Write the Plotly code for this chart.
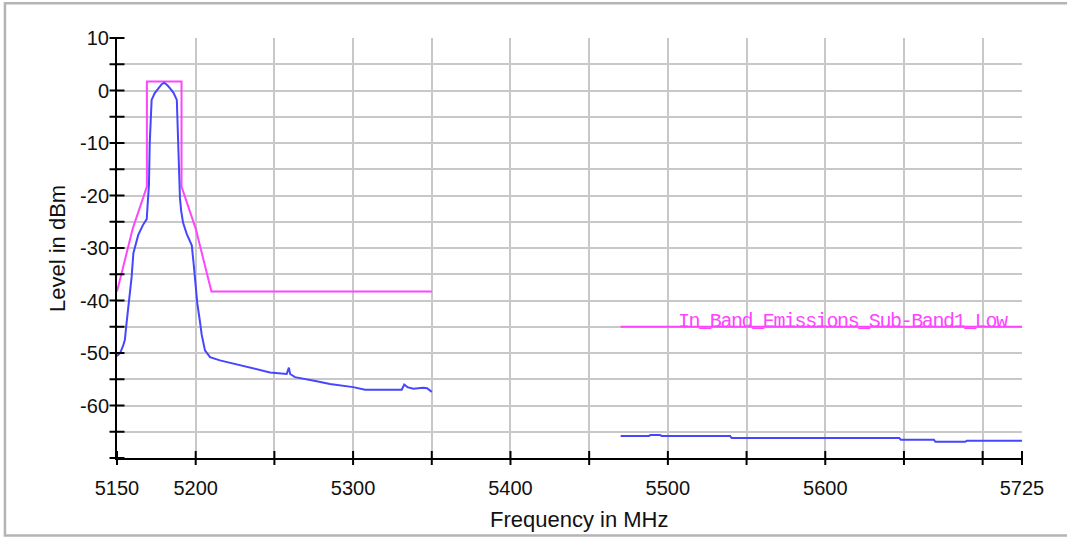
import plotly.graph_objects as go

# ---------------- data ----------------
# Measured trace (blue), lower segment 5150-5350 MHz
meas_low_f = [5150, 5152, 5154, 5155, 5156, 5157.2, 5158.3, 5159.3, 5160.4, 5161.4,
              5163.5, 5166.7, 5168.9, 5169.5, 5170.3, 5170.8, 5171.3, 5172, 5174, 5176,
              5178.4, 5180, 5182, 5184, 5186, 5188, 5188.8, 5189.4, 5190, 5190.8,
              5192, 5194.3, 5197.5, 5198.7, 5200, 5201, 5202.7, 5203.8, 5205.9, 5209.1,
              5215.4, 5230, 5247.2, 5257.8, 5259.2, 5260.0, 5263.1, 5276.9, 5285.3, 5300.1,
              5307.6, 5330.9, 5332.5, 5334.5, 5338.3, 5344.6, 5347, 5350]
meas_low_db = [-50.6, -50.0, -48.5, -47.5, -44.5, -41.5, -38.5, -35.5, -31.0, -30.0,
               -27.5, -25.5, -24.5, -21.5, -18.0, -10.0, -5.5, -1.8, -0.5, 0.3,
               1.2, 1.5, 1.0, 0.3, -0.5, -1.8, -9.0, -13.0, -20.5, -23.0,
               -25.2, -27.3, -29.5, -33.0, -37.0, -40.5, -44.0, -46.5, -49.5, -50.8,
               -51.4, -52.4, -53.7, -54.0, -52.8, -54.0, -54.6, -55.4, -55.9, -56.5,
               -57.0, -57.0, -56.0, -56.5, -56.8, -56.6, -56.7, -57.4]

# Measured trace (blue), upper segment 5470-5725 MHz
meas_high_f = [5470, 5488, 5489, 5495, 5496, 5539.5, 5540.5, 5647, 5648, 5669, 5670, 5689, 5690, 5725]
meas_high_db = [-65.8, -65.8, -65.6, -65.6, -65.8, -65.8, -66.2, -66.2, -66.5, -66.5, -66.9, -66.9, -66.7, -66.7]

# Limit line (magenta), mask around the channel
limit_low_f = [5150, 5160, 5169, 5169, 5191, 5191, 5200, 5210, 5350]
limit_low_db = [-38.3, -26.3, -18.3, 1.7, 1.7, -18.3, -26.3, -38.3, -38.3]

# Limit line (magenta), in-band emissions
limit_high_f = [5470, 5725]
limit_high_db = [-45, -45]
limit_label = "In_Band_Emissions_Sub-Band1_Low"

# Axis ticks
x_tickvals = [5150, 5200, 5250, 5300, 5350, 5400, 5450, 5500, 5550, 5600, 5650, 5700, 5725]
x_ticktext = ["5150", "5200", "", "5300", "", "5400", "", "5500", "", "5600", "", "", "5725"]
y_tickvals = [-70, -65, -60, -55, -50, -45, -40, -35, -30, -25, -20, -15, -10, -5, 0, 5, 10]
y_ticktext = ["", "", "-60", "", "-50", "", "-40", "", "-30", "", "-20", "", "-10", "", "0", "", "10"]

x_title = "Frequency in MHz"
y_title = "Level in dBm"

# ---------------- styling ----------------
BLUE = "#4646FF"
MAGENTA = "#FF44FF"
GRID = "#c8c8c8"
FONT = "Liberation Sans, Arial, sans-serif"

xr = [5150, 5725]
yr = [-70, 10]

fig = go.Figure()
fig.add_trace(go.Scatter(x=limit_low_f, y=limit_low_db, mode="lines",
                         line=dict(color=MAGENTA, width=2), hoverinfo="skip"))
fig.add_trace(go.Scatter(x=limit_high_f, y=limit_high_db, mode="lines",
                         line=dict(color=MAGENTA, width=2), hoverinfo="skip"))
fig.add_trace(go.Scatter(x=meas_low_f, y=meas_low_db, mode="lines",
                         line=dict(color=BLUE, width=2), hoverinfo="skip"))
fig.add_trace(go.Scatter(x=meas_high_f, y=meas_high_db, mode="lines",
                         line=dict(color=BLUE, width=2), hoverinfo="skip"))

# tick marks crossing the axis lines (drawn as line markers on the axes)
fig.add_trace(go.Scatter(x=x_tickvals, y=[yr[0]] * len(x_tickvals), mode="markers",
                         marker=dict(symbol="line-ns", size=10,
                                     line=dict(color="black", width=2)),
                         cliponaxis=False, hoverinfo="skip"))
fig.add_trace(go.Scatter(x=[xr[0]] * len(y_tickvals), y=y_tickvals, mode="markers",
                         marker=dict(symbol="line-ew", size=10.7,
                                     line=dict(color="black", width=2)),
                         cliponaxis=False, hoverinfo="skip"))

fig.update_layout(
    width=1067, height=538,
    margin=dict(l=117, r=45, t=38, b=80),
    paper_bgcolor="white", plot_bgcolor="white",
    showlegend=False,
    font=dict(family=FONT, color="#111111"),
    xaxis=dict(range=xr, tickvals=x_tickvals, ticktext=x_ticktext,
               showgrid=True, gridcolor=GRID, gridwidth=2,
               showline=True, linecolor="black", linewidth=2,
               ticks="", tickfont=dict(size=20, family=FONT), ticklabelstandoff=11,
               zeroline=False, fixedrange=True),
    yaxis=dict(range=yr, tickvals=y_tickvals, ticktext=y_ticktext,
               showgrid=True, gridcolor=GRID, gridwidth=2,
               showline=True, linecolor="black", linewidth=2,
               ticks="", tickfont=dict(size=20, family=FONT), ticklabelstandoff=2,
               zeroline=False, fixedrange=True),
)

# Label on the in-band limit line
fig.add_annotation(x=limit_high_f[-1] - 7.7, y=limit_high_db[-1], xref="x", yref="y",
                   text='<span style="letter-spacing:-1.4px">' + limit_label + '</span>',
                   showarrow=False, xanchor="right", yanchor="bottom",
                   yshift=-8,
                   font=dict(family="Liberation Mono, DejaVu Sans Mono, monospace",
                             size=20, color=MAGENTA))

# Axis titles
fig.add_annotation(x=0.511, y=-0.1476, xref="paper", yref="paper", text=x_title,
                   showarrow=False, xanchor="center", yanchor="middle",
                   font=dict(family=FONT, size=22, color="#111111"))
fig.add_annotation(x=-0.0663, y=0.5, xref="paper", yref="paper", text=y_title,
                   showarrow=False, xanchor="center", yanchor="middle", textangle=-90,
                   font=dict(family=FONT, size=22, color="#111111"))

# Outer frame (top, left, bottom edges)
fig.add_shape(type="path", xref="paper", yref="paper",
              path="M 1.06,1.083 L -0.1238,1.083 L -0.1238,-0.1845 L 1.06,-0.1845",
              line=dict(color="#b4b4b4", width=2.5))

fig.write_html("out.html")
